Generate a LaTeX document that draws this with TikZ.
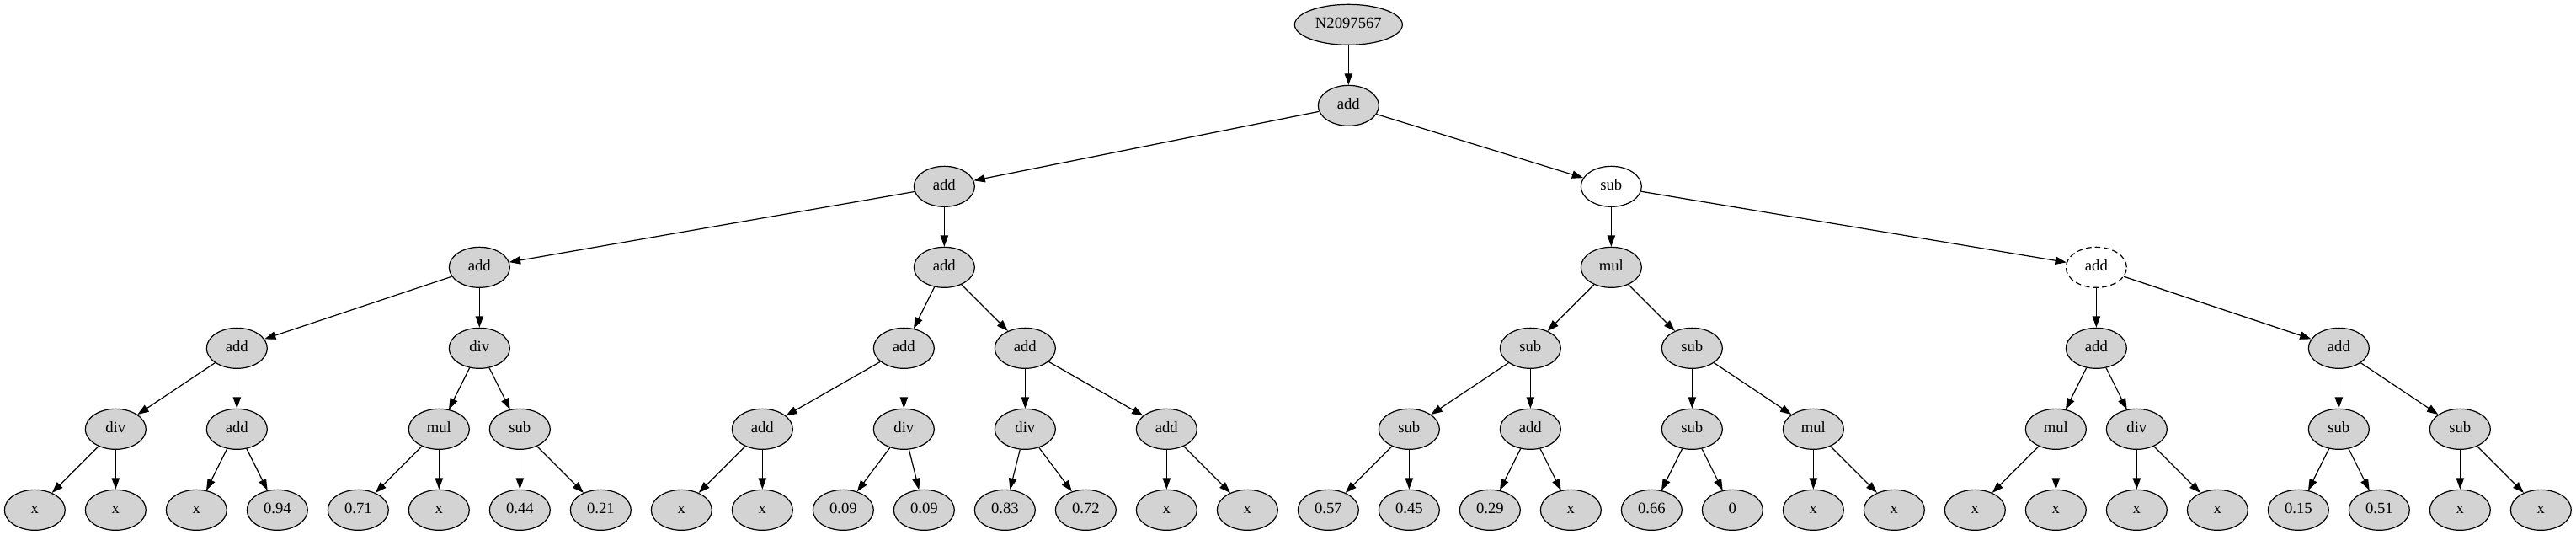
\documentclass[tikz,border=0pt]{standalone}
\usepackage{fontspec}
\setmainfont{Liberation Serif}
\usepackage{xcolor}
\usetikzlibrary{shapes.geometric,arrows.meta}
\definecolor{nodegray}{RGB}{211,211,211}

\begin{document}
\begin{tikzpicture}[x=72pt,y=72pt]
    % Define styles
    \tikzstyle{opnode} = [ellipse, draw, line width=0.9pt, fill=nodegray, minimum width=54pt, minimum height=36pt, inner sep=1pt, text height=9pt, text depth=2.5pt, font=\fontsize{14}{16}\selectfont]
    \tikzstyle{plainnode} = [opnode, fill=white]
    \tikzstyle{dashnode} = [opnode, fill=white, dash pattern=on 5pt off 3pt]
    \tikzstyle{arrow} = [line width=0.9pt, -{Triangle[length=10pt,width=7pt]}]

    \useasboundingbox (-31pt,22pt) rectangle (2263.25pt,-454.25pt);

    % Create nodes, one row per rank
    \node (r) [opnode, minimum width=96pt] at (16.25,0) {N2097567};
    \node (a1) [opnode] at (16.25,-1) {add};

    \node (b1) [opnode] at (11.25,-2) {add};
    \node (b2) [plainnode] at (19.5,-2) {sub};

    \node (c1) [opnode] at (5.5,-3) {add};
    \node (c2) [opnode] at (11.25,-3) {add};
    \node (c3) [opnode] at (19.5,-3) {mul};
    \node (c4) [dashnode] at (25.5,-3) {add};

    \node (d1) [opnode] at (2.5,-4) {add};
    \node (d2) [opnode] at (5.5,-4) {div};
    \node (d3) [opnode] at (10.75,-4) {add};
    \node (d4) [opnode] at (12.25,-4) {add};
    \node (d5) [opnode] at (18.5,-4) {sub};
    \node (d6) [opnode] at (20.5,-4) {sub};
    \node (d7) [opnode] at (25.5,-4) {add};
    \node (d8) [opnode] at (28.5,-4) {add};

    \node (e1) [opnode] at (1,-5) {div};
    \node (e2) [opnode] at (2.5,-5) {add};
    \node (e3) [opnode] at (5,-5) {mul};
    \node (e4) [opnode] at (6,-5) {sub};
    \node (e5) [opnode] at (9,-5) {add};
    \node (e6) [opnode] at (10.75,-5) {div};
    \node (e7) [opnode] at (12.25,-5) {div};
    \node (e8) [opnode] at (14,-5) {add};
    \node (e9) [opnode] at (17,-5) {sub};
    \node (e10) [opnode] at (18.5,-5) {add};
    \node (e11) [opnode] at (20.5,-5) {sub};
    \node (e12) [opnode] at (22,-5) {mul};
    \node (e13) [opnode] at (25,-5) {mul};
    \node (e14) [opnode] at (26,-5) {div};
    \node (e15) [opnode] at (28.5,-5) {sub};
    \node (e16) [opnode] at (30,-5) {sub};

    \node (f1) [opnode] at (0,-6) {x};
    \node (f2) [opnode] at (1,-6) {x};
    \node (f3) [opnode] at (2,-6) {x};
    \node (f4) [opnode] at (3,-6) {0.94};
    \node (f5) [opnode] at (4,-6) {0.71};
    \node (f6) [opnode] at (5,-6) {x};
    \node (f7) [opnode] at (6,-6) {0.44};
    \node (f8) [opnode] at (7,-6) {0.21};
    \node (f9) [opnode] at (8,-6) {x};
    \node (f10) [opnode] at (9,-6) {x};
    \node (f11) [opnode] at (10,-6) {0.09};
    \node (f12) [opnode] at (11,-6) {0.09};
    \node (f13) [opnode] at (12,-6) {0.83};
    \node (f14) [opnode] at (13,-6) {0.72};
    \node (f15) [opnode] at (14,-6) {x};
    \node (f16) [opnode] at (15,-6) {x};
    \node (f17) [opnode] at (16,-6) {0.57};
    \node (f18) [opnode] at (17,-6) {0.45};
    \node (f19) [opnode] at (18,-6) {0.29};
    \node (f20) [opnode] at (19,-6) {x};
    \node (f21) [opnode] at (20,-6) {0.66};
    \node (f22) [opnode] at (21,-6) {0};
    \node (f23) [opnode] at (22,-6) {x};
    \node (f24) [opnode] at (23,-6) {x};
    \node (f25) [opnode] at (24,-6) {x};
    \node (f26) [opnode] at (25,-6) {x};
    \node (f27) [opnode] at (26,-6) {x};
    \node (f28) [opnode] at (27,-6) {x};
    \node (f29) [opnode] at (28,-6) {0.15};
    \node (f30) [opnode] at (29,-6) {0.51};
    \node (f31) [opnode] at (30,-6) {x};
    \node (f32) [opnode] at (31,-6) {x};

    % Draw edges
    \draw [arrow] (r) -- (a1);
    \draw [arrow] (a1) -- (b1);
    \draw [arrow] (a1) -- (b2);

    \draw [arrow] (b1) -- (c1);
    \draw [arrow] (b1) -- (c2);
    \draw [arrow] (b2) -- (c3);
    \draw [arrow] (b2) -- (c4);

    \draw [arrow] (c1) -- (d1);
    \draw [arrow] (c1) -- (d2);
    \draw [arrow] (c2) -- (d3);
    \draw [arrow] (c2) -- (d4);
    \draw [arrow] (c3) -- (d5);
    \draw [arrow] (c3) -- (d6);
    \draw [arrow] (c4) -- (d7);
    \draw [arrow] (c4) -- (d8);

    \draw [arrow] (d1) -- (e1);
    \draw [arrow] (d1) -- (e2);
    \draw [arrow] (d2) -- (e3);
    \draw [arrow] (d2) -- (e4);
    \draw [arrow] (d3) -- (e5);
    \draw [arrow] (d3) -- (e6);
    \draw [arrow] (d4) -- (e7);
    \draw [arrow] (d4) -- (e8);
    \draw [arrow] (d5) -- (e9);
    \draw [arrow] (d5) -- (e10);
    \draw [arrow] (d6) -- (e11);
    \draw [arrow] (d6) -- (e12);
    \draw [arrow] (d7) -- (e13);
    \draw [arrow] (d7) -- (e14);
    \draw [arrow] (d8) -- (e15);
    \draw [arrow] (d8) -- (e16);

    \draw [arrow] (e1) -- (f1);
    \draw [arrow] (e1) -- (f2);
    \draw [arrow] (e2) -- (f3);
    \draw [arrow] (e2) -- (f4);
    \draw [arrow] (e3) -- (f5);
    \draw [arrow] (e3) -- (f6);
    \draw [arrow] (e4) -- (f7);
    \draw [arrow] (e4) -- (f8);
    \draw [arrow] (e5) -- (f9);
    \draw [arrow] (e5) -- (f10);
    \draw [arrow] (e6) -- (f11);
    \draw [arrow] (e6) -- (f12);
    \draw [arrow] (e7) -- (f13);
    \draw [arrow] (e7) -- (f14);
    \draw [arrow] (e8) -- (f15);
    \draw [arrow] (e8) -- (f16);
    \draw [arrow] (e9) -- (f17);
    \draw [arrow] (e9) -- (f18);
    \draw [arrow] (e10) -- (f19);
    \draw [arrow] (e10) -- (f20);
    \draw [arrow] (e11) -- (f21);
    \draw [arrow] (e11) -- (f22);
    \draw [arrow] (e12) -- (f23);
    \draw [arrow] (e12) -- (f24);
    \draw [arrow] (e13) -- (f25);
    \draw [arrow] (e13) -- (f26);
    \draw [arrow] (e14) -- (f27);
    \draw [arrow] (e14) -- (f28);
    \draw [arrow] (e15) -- (f29);
    \draw [arrow] (e15) -- (f30);
    \draw [arrow] (e16) -- (f31);
    \draw [arrow] (e16) -- (f32);
\end{tikzpicture}
\end{document}
